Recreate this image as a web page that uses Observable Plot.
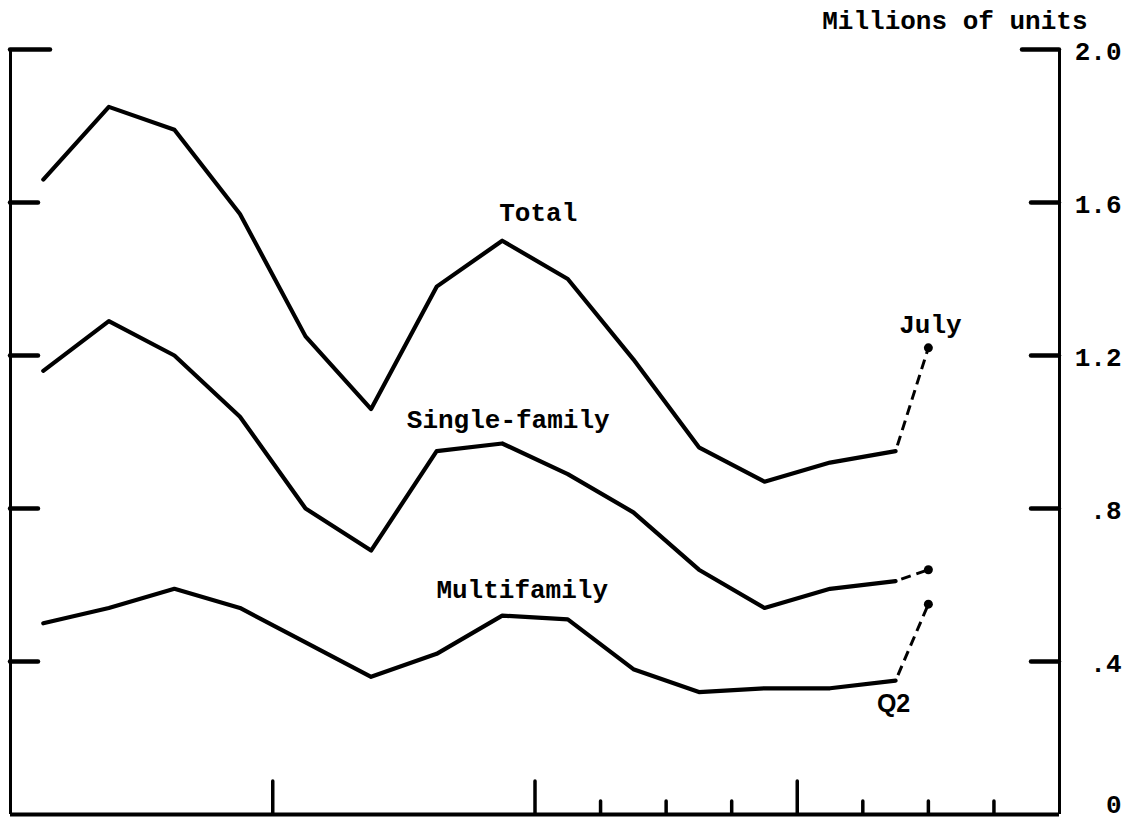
<!DOCTYPE html>
<html>
<head>
<meta charset="utf-8">
<script src="https://cdn.jsdelivr.net/npm/d3@7"></script>
<script src="https://cdn.jsdelivr.net/npm/@observablehq/plot@0.6"></script>
<style>
  html, body { margin: 0; padding: 0; background: #fff; }
  svg { display: block; }
</style>
</head>
<body>
<script>
// ---- data ----
const quarters = ["1979 Q1","1979 Q2","1979 Q3","1979 Q4",
                  "1980 Q1","1980 Q2","1980 Q3","1980 Q4",
                  "1981 Q1","1981 Q2","1981 Q3","1981 Q4",
                  "1982 Q1","1982 Q2"];
const total        = [1.66, 1.85, 1.79, 1.57, 1.25, 1.06, 1.38, 1.50, 1.40, 1.19, 0.96, 0.87, 0.92, 0.95];
const singleFamily = [1.16, 1.29, 1.20, 1.04, 0.80, 0.69, 0.95, 0.97, 0.89, 0.79, 0.64, 0.54, 0.59, 0.61];
const multifamily  = [0.50, 0.54, 0.59, 0.54, 0.45, 0.36, 0.42, 0.52, 0.51, 0.38, 0.32, 0.33, 0.33, 0.35];
const julyMonth = "1982-07";
const julyValues = {total: 1.22, single: 0.64, multi: 0.55};

const yTicks = [2.0, 1.6, 1.2, 0.8, 0.4, 0];
const yTickLabels = ["2.0", "1.6", "1.2", ".8", ".4", "0"];
const yearTicks = [1980, 1981, 1982];
const quarterTicks = ["1981 Q2","1981 Q3","1981 Q4","1982 Q2","1982 Q3","1982 Q4"];

// ---- helpers ----
const qMid = q => +q.slice(0, 4) + (+q.slice(-1) - 1) / 4 + 1 / 8;
const qStart = q => +q.slice(0, 4) + (+q.slice(-1) - 1) / 4;
const monthStart = m => +m.slice(0, 4) + (+m.slice(5) - 1) / 12;

const seriesDefs = [
  {key: "total", values: total},
  {key: "single", values: singleFamily},
  {key: "multi", values: multifamily}
];
const rows = seriesDefs.flatMap(s => quarters.map((q, i) => ({series: s.key, t: qMid(q), v: s.values[i]})));
const last = seriesDefs.map(s => ({series: s.key, t1: qMid(quarters[quarters.length - 1]), v1: s.values[s.values.length - 1],
                                   t2: monthStart(julyMonth), v2: julyValues[s.key]}));
const julyRows = last.map(d => ({series: d.series, t: d.t2, v: d.v2}));
const tickRows = yTicks.map((v, i) => ({v, label: yTickLabels[i]}));
const point = (series, q) => rows.filter(d => d.series === series && d.t === qMid(q));

const mono = "'Liberation Mono', 'DejaVu Sans Mono', monospace";

const chart = Plot.plot({
  width: 1132,
  height: 819,
  marginLeft: 10,
  marginRight: 73,
  marginTop: 49,
  marginBottom: 5,
  x: {domain: [1979, 1983], axis: null},
  y: {domain: [0, 2], axis: null},
  style: {background: "#fff", color: "#000", fontFamily: mono, fontSize: "26px", fontWeight: "bold", overflow: "visible"},
  marks: [
    // frame: left, right, bottom
    Plot.ruleX([1979], {y1: 0, y2: 2, stroke: "#000", strokeWidth: 3}),
    Plot.ruleX([1983], {y1: 0, y2: 2, stroke: "#000", strokeWidth: 3}),
    Plot.ruleY([0], {x1: 1979, x2: 1983, stroke: "#000", strokeWidth: 4}),
    // left ticks (inward)
    Plot.ruleY(yTicks.filter(v => v > 0 && v < 2), {x1: 1979, x2: 1979, insetRight: -28, stroke: "#000", strokeWidth: 4.5, strokeLinecap: "round"}),
    Plot.ruleY([2.0], {x1: 1979, x2: 1979, insetRight: -40, stroke: "#000", strokeWidth: 4.5, strokeLinecap: "round"}),
    // right ticks (inward)
    Plot.ruleY(yTicks.filter(v => v > 0 && v < 2), {x1: 1983, x2: 1983, insetLeft: -28, stroke: "#000", strokeWidth: 4.5, strokeLinecap: "round"}),
    Plot.ruleY([2.0], {x1: 1983, x2: 1983, insetLeft: -37, stroke: "#000", strokeWidth: 4.5, strokeLinecap: "round"}),
    // bottom ticks
    Plot.ruleX(yearTicks, {y1: 0, y2: 0, insetTop: -33, stroke: "#000", strokeWidth: 3.5, strokeLinecap: "round"}),
    Plot.ruleX(quarterTicks.map(qStart), {y1: 0, y2: 0, insetTop: -13, stroke: "#000", strokeWidth: 3.5, strokeLinecap: "round"}),
    // right tick labels
    Plot.text(tickRows.filter(d => d.v > 0), {y: "v", text: "label", frameAnchor: "right", dx: 62, dy: 2, textAnchor: "end", lineAnchor: "middle", fill: "#000"}),
    Plot.text(tickRows.filter(d => d.v === 0), {y: "v", text: "label", frameAnchor: "right", dx: 62, dy: -10, textAnchor: "end", lineAnchor: "middle", fill: "#000"}),
    // unit title
    Plot.text(["Millions of units"], {text: d => d, frameAnchor: "top-right", dx: 28, dy: -21, textAnchor: "end", lineAnchor: "bottom", fill: "#000"}),
    // series lines
    Plot.line(rows, {x: "t", y: "v", z: "series", stroke: "#000", strokeWidth: 4.2, strokeLinecap: "round", strokeLinejoin: "round"}),
    // dashed extension to July
    Plot.link(last, {x1: "t1", y1: "v1", x2: "t2", y2: "v2", stroke: "#000", strokeWidth: 3, strokeDasharray: "10,6", strokeDashoffset: 10}),
    Plot.dot(julyRows, {x: "t", y: "v", r: 4.5, fill: "#000"}),
    // labels
    Plot.text(point("total", "1980 Q4"), {x: "t", y: "v", text: () => "Total", dx: 36, dy: -20, lineAnchor: "bottom", fill: "#000"}),
    Plot.text(point("single", "1980 Q4"), {x: "t", y: "v", text: () => "Single-family", dx: 6, dy: -15, lineAnchor: "bottom", fill: "#000"}),
    Plot.text(point("multi", "1980 Q4"), {x: "t", y: "v", text: () => "Multifamily", dx: 20, dy: -18, lineAnchor: "bottom", fill: "#000"}),
    Plot.text(julyRows.filter(d => d.series === "total"), {x: "t", y: "v", text: () => "July", dx: 2, dy: -15, lineAnchor: "bottom", fill: "#000"}),
    Plot.text(point("multi", "1982 Q2"), {x: "t", y: "v", text: () => "Q2", dx: -2, dy: 31, lineAnchor: "bottom", fill: "#000", fontFamily: "'Liberation Sans', Arial, sans-serif", fontSize: 25})
  ]
});
document.body.appendChild(chart);
</script>
</body>
</html>
